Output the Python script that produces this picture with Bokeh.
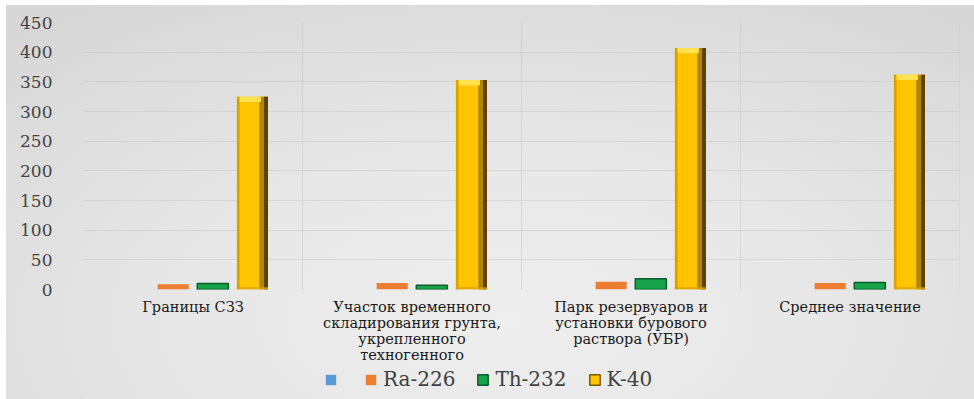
from bokeh.plotting import figure
from bokeh.layouts import column
from bokeh.models import (ColumnDataSource, FactorRange, Range1d, SingleIntervalTicker,
                          Legend, LegendItem, Span)
from bokeh.transform import dodge
from bokeh.embed import file_html
from bokeh.resources import INLINE

# Sampling sites (x categories)
categories = [
    "Границы СЗЗ",
    "Участок временного\nскладирования грунта,\nукрепленного\nтехногенного",
    "Парк резервуаров и\nустановки бурового\nраствора (УБР)",
    "Среднее значение",
]
# Specific activity of natural radionuclides, Bq/kg
blank_series = [0, 0, 0, 0]
ra226 = [9, 11, 13, 11]
th232 = [10, 7, 18, 12]
k40 = [325, 353, 407, 362]
series_names = [" ", "Ra-226", "Th-232", "K-40"]
series_colors = ["#5B9BD5", "#ED7D31", "#16A34A", "#FFC400"]

source = ColumnDataSource(dict(cat=categories, blank=blank_series, ra=ra226, th=th232, k=k40,
                               k_cap=[v - 9 for v in k40]))

SERIF = "DejaVu Serif"
BAR_W = 0.142
STEP = 0.181

p = figure(width=974, height=365, x_range=FactorRange(*categories), y_range=Range1d(0, 450),
           output_backend="svg", toolbar_location=None,
           min_border_left=83, min_border_right=15, min_border_top=22, min_border_bottom=75)

# transparent canvas so the CSS gradient of the layout shows through
p.background_fill_alpha = 0
p.border_fill_alpha = 0
p.outline_line_color = None

# grid: horizontal every 50, vertical between categories
p.xgrid.grid_line_color = None
p.ygrid.grid_line_color = "#c9c9c9"
p.ygrid.grid_line_alpha = 0.55
for i in range(1, len(categories) + 1):
    p.add_layout(Span(location=i, dimension="height", line_color="#c9c9c9",
                      line_alpha=0.55, line_width=1))

# axes
p.yaxis.ticker = SingleIntervalTicker(interval=50)
for ax in (p.xaxis[0], p.yaxis[0]):
    ax.axis_line_color = None
    ax.major_tick_line_color = None
    ax.minor_tick_line_color = None
p.yaxis.major_label_text_font = SERIF
p.yaxis.major_label_text_font_size = "17px"
p.yaxis.major_label_text_color = "#444444"
p.yaxis.major_label_standoff = 25
p.xaxis.major_label_text_font = SERIF
p.xaxis.major_label_text_font_size = "14.5px"
p.xaxis.major_label_text_color = "#1a1a1a"
p.xaxis.major_label_text_line_height = 1.0
p.xaxis.major_label_standoff = 3

# blank (unnamed) series
p.vbar(x=dodge("cat", -1.5 * STEP, range=p.x_range), top="blank", width=BAR_W,
       source=source, fill_color=series_colors[0], line_color=None)

# Ra-226
p.vbar(x=dodge("cat", -0.5 * STEP, range=p.x_range), top="ra", width=BAR_W,
       source=source, fill_color=series_colors[1], line_color=None)

# Th-232 with a dark rim
p.vbar(x=dodge("cat", 0.5 * STEP, range=p.x_range), top="th", width=BAR_W,
       source=source, fill_color=series_colors[2], line_color="#0B5E2A", line_width=1.5)

# K-40 with a bevelled look
kx = 1.5 * STEP
p.vbar(x=dodge("cat", kx, range=p.x_range), top="k", width=BAR_W,
       source=source, fill_color=series_colors[3], line_color=None)
p.vbar(x=dodge("cat", kx - BAR_W / 2 + 0.006, range=p.x_range), top="k", width=0.012,
       source=source, fill_color="#D9A200", line_color=None)
p.vbar(x=dodge("cat", kx + BAR_W / 2 - 0.02, range=p.x_range), top="k", width=0.04,
       source=source, fill_color="#B38600", line_color=None)
p.vbar(x=dodge("cat", kx + BAR_W / 2 - 0.009, range=p.x_range), top="k", width=0.018,
       source=source, fill_color="#5C4400", line_color=None)
p.vbar(x=dodge("cat", kx - 0.01, range=p.x_range), bottom="k_cap", top="k", width=BAR_W - 0.045,
       source=source, fill_color="#FFE24D", line_color=None)
p.vbar(x=dodge("cat", kx, range=p.x_range), bottom=0, top=4, width=BAR_W,
       source=source, fill_color="#D9A200", line_color=None, fill_alpha=0.8)

# legend strip under the chart; its swatch glyphs sit outside the visible range
leg_fig = figure(width=974, height=34, x_range=Range1d(0, 1), y_range=Range1d(0, 1),
                 output_backend="svg", toolbar_location=None, min_border=0,
                 x_axis_type=None, y_axis_type=None)
leg_fig.background_fill_alpha = 0
leg_fig.border_fill_alpha = 0
leg_fig.outline_line_color = None
leg_fig.grid.visible = False
offscreen = ColumnDataSource(dict(x=[-5], top=[-5]))
legend_line_colors = [None, None, "#0B5E2A", "#7A5B00"]
items = []
for name, fill, edge in zip(series_names, series_colors, legend_line_colors):
    r = leg_fig.vbar(x="x", top="top", width=0.1, source=offscreen, fill_color=fill,
                     line_color=edge, line_width=1.5)
    items.append(LegendItem(label=name, renderers=[r]))

legend = Legend(items=items, orientation="horizontal", location=(241, 8))
legend.background_fill_alpha = 0
legend.border_line_color = None
legend.label_text_font = SERIF
legend.label_text_font_size = "20px"
legend.label_text_color = "#404040"
legend.glyph_width = 13
legend.glyph_height = 13
legend.label_width = 0
legend.label_standoff = 6
legend.spacing = 21
legend.padding = 2
legend.margin = 0
leg_fig.add_layout(legend, "center")

page = column(p, leg_fig, spacing=0)
page.styles = {
    "background": "linear-gradient(to right, #ffffff 0px, #ffffff 6px, rgba(255,255,255,0) 6px), "
                  "linear-gradient(to bottom, #ffffff 0px, #ffffff 5px, rgba(255,255,255,0) 5px), "
                  "radial-gradient(ellipse 75% 95% at 52% 80%, #eeeeee 0%, #e7e7e7 45%, #d7d7d7 100%)"
}

open("out.html", "w").write(file_html(page, INLINE))
